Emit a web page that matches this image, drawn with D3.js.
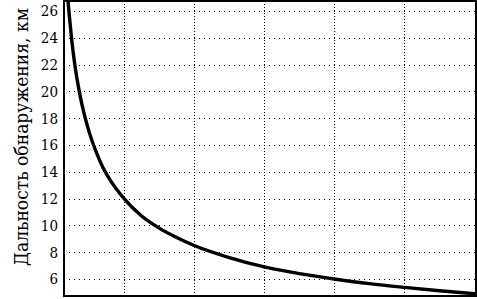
<!DOCTYPE html>
<html>
<head>
<meta charset="utf-8">
<script src="https://cdn.jsdelivr.net/npm/d3@7"></script>
<style>
  body { margin: 0; background: #fff; }
  svg text { font-family: "DejaVu Serif Condensed", "DejaVu Serif", serif; font-stretch: condensed; }
</style>
</head>
<body>
<div id="chart"></div>
<script>
// values
var xVals = [0.19, 0.2, 0.22, 0.25, 0.3, 0.35, 0.4, 0.5, 0.6, 0.7, 0.8, 1.0, 1.25, 1.5, 1.75, 2.0, 2.5, 3.0, 3.5, 4.0, 4.5, 5.0, 5.5, 6.0, 6.05];
var rangeKm = [27.5, 26.8, 25.6, 24.0, 21.9, 20.3, 19.0, 17.0, 15.5, 14.3, 13.4, 12.0, 10.7, 9.8, 9.1, 8.5, 7.6, 6.9, 6.4, 6.0, 5.65, 5.37, 5.12, 4.9, 4.88];
var yTicks = [6, 8, 10, 12, 14, 16, 18, 20, 22, 24, 26];
var xGrid = [1, 2, 3, 4, 5];
var yTitle = "Дальность обнаружения, км";

var W = 477, H = 299;
var margin = { top: 1, left: 64, bottom: 3, right: 1 };
var width = W - margin.left - margin.right;
var height = H - margin.top - margin.bottom;

var svg = d3.select("#chart").append("svg")
  .attr("width", W)
  .attr("height", H);

var g = svg.append("g")
  .attr("transform", "translate(" + margin.left + "," + margin.top + ")");

var x = d3.scaleLinear().domain([0.143, 6.02]).range([0, width]);
var y = d3.scaleLinear().domain([4.73, 26.75]).range([height, 0]);

// dotted grid
g.selectAll(".hgrid").data(yTicks).enter().append("line")
  .attr("class", "hgrid")
  .attr("x1", 0).attr("x2", width)
  .attr("y1", function(d) { return Math.round(y(d)) + 0.5; })
  .attr("y2", function(d) { return Math.round(y(d)) + 0.5; })
  .attr("stroke", "#000").attr("stroke-width", 1)
  .attr("stroke-dasharray", "1,4");

g.selectAll(".vgrid").data(xGrid).enter().append("line")
  .attr("class", "vgrid")
  .attr("x1", function(d) { return Math.round(x(d)) + 0.5; })
  .attr("x2", function(d) { return Math.round(x(d)) + 0.5; })
  .attr("y1", 0).attr("y2", height)
  .attr("stroke", "#000").attr("stroke-width", 1)
  .attr("stroke-dasharray", "1,2");

// y axis labels
var yAxis = d3.axisLeft(y).tickValues(yTicks).tickSize(0).tickPadding(6);
var ya = g.append("g").call(yAxis);
ya.select(".domain").remove();
ya.attr("font-family", null);
ya.selectAll("text").attr("font-size", 15).attr("fill", "#000");

// curve
g.append("defs").append("clipPath").attr("id", "clip")
  .append("rect").attr("width", width).attr("height", height);

var data = xVals.map(function(v, i) { return [v, rangeKm[i]]; });
var line = d3.line()
  .x(function(d) { return x(d[0]); })
  .y(function(d) { return y(d[1]); })
  .curve(d3.curveMonotoneX);

g.append("path")
  .datum(data)
  .attr("clip-path", "url(#clip)")
  .attr("d", line)
  .attr("fill", "none")
  .attr("stroke", "#000")
  .attr("stroke-width", 3.4);

// frame
g.append("rect")
  .attr("x", 0).attr("y", 0)
  .attr("width", width).attr("height", height)
  .attr("fill", "none")
  .attr("stroke", "#000")
  .attr("stroke-width", 2);

// y title
svg.append("text")
  .attr("transform", "translate(21,137) rotate(-90)")
  .attr("text-anchor", "middle")
  .attr("dominant-baseline", "central")
  .attr("font-size", 19)
  .attr("textLength", 258)
  .attr("lengthAdjust", "spacingAndGlyphs")
  .attr("fill", "#000")
  .text(yTitle);
</script>
</body>
</html>
